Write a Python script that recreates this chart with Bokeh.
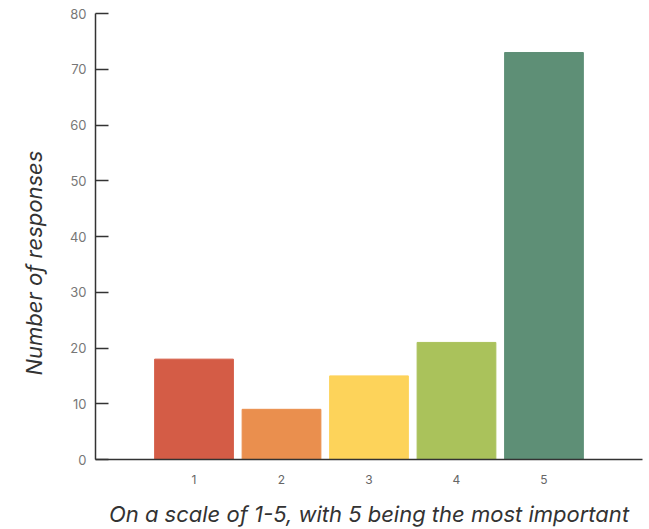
from bokeh.plotting import figure
from bokeh.models import Range1d, FixedTicker, ColumnDataSource, Title
from bokeh.embed import file_html
from bokeh.resources import INLINE

categories = [1, 2, 3, 4, 5]
responses = [18, 9, 15, 21, 73]
colors = ["#D45C46", "#EA8F4E", "#FDD35A", "#AAC25B", "#5E8F76"]
y_ticks = [0, 10, 20, 30, 40, 50, 60, 70, 80]
x_title = "On a scale of 1-5, with 5 being the most important"
y_title = "Number of responses"

src = ColumnDataSource(dict(x=categories, top=responses, color=colors))

p = figure(width=649, height=529, output_backend="svg", toolbar_location=None,
           x_range=Range1d(-0.126, 6.126), y_range=Range1d(0, 80),
           min_border_left=95, min_border_right=7, min_border_top=13, min_border_bottom=70)
p.vbar(x="x", top="top", bottom=0, width=0.9, color="color", source=src)

p.outline_line_color = None
p.xgrid.grid_line_color = None
p.ygrid.grid_line_color = None
p.background_fill_color = "white"
p.border_fill_color = "white"

font = "Inter"
p.xaxis.ticker = FixedTicker(ticks=categories)
p.xaxis.major_tick_line_color = None
p.xaxis.minor_tick_line_color = None
p.xaxis.axis_line_color = "#333333"
p.xaxis.axis_line_width = 1.5
p.xaxis.major_label_text_font = font
p.xaxis.major_label_text_font_size = "12px"
p.xaxis.major_label_text_color = "#666666"
p.xaxis.major_label_standoff = 9
p.xaxis.axis_label = x_title
p.xaxis.axis_label_text_font = font
p.xaxis.axis_label_text_font_style = "italic"
p.xaxis.axis_label_text_font_size = "22px"
p.xaxis.axis_label_text_color = "#333333"
p.xaxis.axis_label_standoff = 14

p.yaxis.ticker = FixedTicker(ticks=y_ticks)
p.yaxis.major_tick_in = 13
p.yaxis.major_tick_out = 0
p.yaxis.minor_tick_line_color = None
p.yaxis.major_tick_line_color = "#333333"
p.yaxis.major_tick_line_width = 1.5
p.yaxis.axis_line_color = "#333333"
p.yaxis.axis_line_width = 1.5
p.yaxis.major_label_text_font = font
p.yaxis.major_label_text_font_size = "13px"
p.yaxis.major_label_text_color = "#777777"
p.yaxis.major_label_standoff = 9

ytitle = Title(text=y_title, align="left", vertical_align="middle", offset=84, standoff=38,
               text_font=font, text_font_style="italic", text_font_size="22px",
               text_color="#333333")
p.add_layout(ytitle, "left")

open("out.html", "w").write(file_html(p, INLINE))
